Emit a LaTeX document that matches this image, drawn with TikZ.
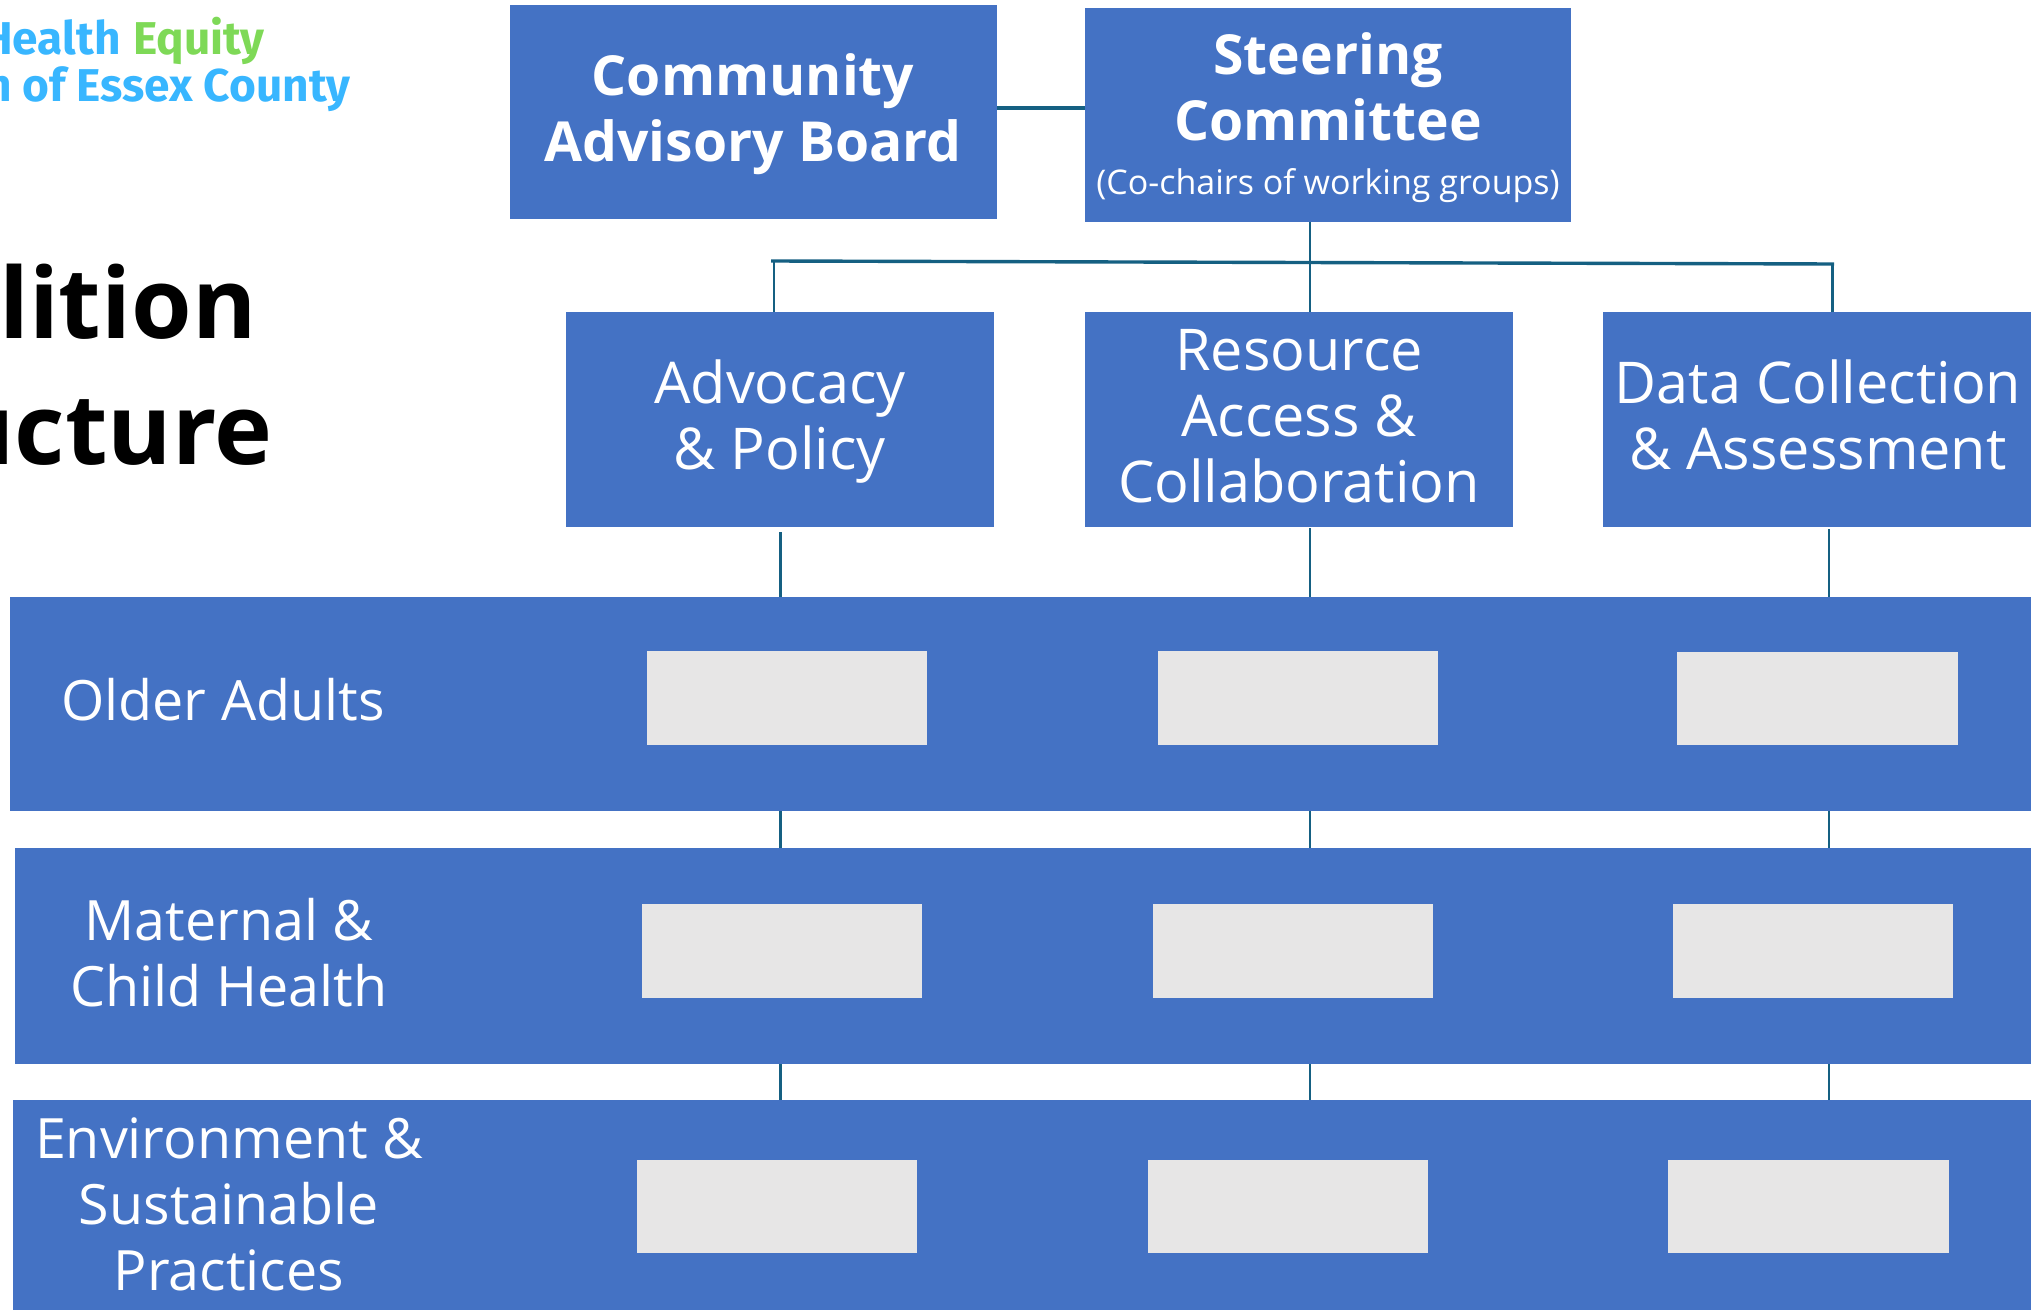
\documentclass[tikz,border=0pt]{standalone}
\usepackage{fontspec}
\setmainfont{Open Sans}
\newfontfamily\logofont{Fira Sans}
\definecolor{bandblue}{HTML}{4472C4}
\definecolor{cellgray}{HTML}{E7E6E6}
\definecolor{linkteal}{HTML}{156082}
\definecolor{logoblue}{HTML}{38B6FF}
\definecolor{logogreen}{HTML}{7ED957}
\tikzset{
  bluebox/.style={fill=bandblue,draw=none,inner sep=0pt},
  cellbox/.style={fill=cellgray,draw=none,inner sep=0pt},
  boxtext/.style={text=white,align=center,inner sep=0pt,font=\fontsize{27.8}{33}\selectfont},
  grouptext/.style={text=white,align=center,inner sep=0pt,font=\fontsize{28.8}{33}\selectfont},
  boldtext/.style={text=white,align=center,inner sep=0pt,font=\fontsize{27.6}{33}\selectfont\bfseries},
  smalltext/.style={text=white,align=center,inner sep=0pt,font=\fontsize{17}{20}\selectfont},
  conn/.style={draw=linkteal,line width=1.7pt},
  connthin/.style={draw=linkteal,line width=1.1pt},
  titletext/.style={anchor=base east,inner sep=0pt,font=\fontsize{49}{56}\selectfont\bfseries},
  logotext/.style={anchor=base east,inner sep=0pt,font=\logofont\fontsize{23}{28}\selectfont\bfseries},
}
\newcommand{\rectnode}[6]{\node[#1,minimum width={(#5-#3)*0.5pt},minimum height={(#6-#4)*0.5pt}] (#2) at ({(#3+#5)/2},{(#4+#6)/2}) {};}
\begin{document}
\begin{tikzpicture}[x=0.5pt,y=-0.5pt]
\useasboundingbox (0,0) rectangle (2043,1310);
\begin{scope}
\clip (0,0) rectangle (2043,1310);
% logo and title
\node[logotext,text=logogreen] (logoa) at (265,55) {Equity};
\node[logotext,text=logoblue] (logob) at (121,55) {Health};
\node[logotext,text=logoblue] (logoc) at (351,102) {Coalition of Essex County};
\node[titletext] (titlea) at (257,339) {Coalition};
\node[titletext] (titleb) at (273,464) {Structure};
% top boxes
\rectnode{bluebox}{cab}{510}{5}{997}{219}
\rectnode{bluebox}{sc}{1085}{8}{1571}{222}
\rectnode{bluebox}{adv}{566}{312}{994}{527}
\rectnode{bluebox}{res}{1085}{312}{1513}{527}
\rectnode{bluebox}{dat}{1603}{312}{2031}{527}
% bands
\rectnode{bluebox}{banda}{9.5}{597}{2031}{811}
\rectnode{bluebox}{bandb}{14.5}{848}{2031}{1064}
\rectnode{bluebox}{bandc}{13}{1100}{2031}{1310}
% cells
\rectnode{cellbox}{ca}{647}{651}{927}{745}
\rectnode{cellbox}{cb}{1158}{651}{1438}{745}
\rectnode{cellbox}{cc}{1677}{652}{1958}{745}
\rectnode{cellbox}{da}{642}{904}{922}{998}
\rectnode{cellbox}{db}{1153}{904}{1433}{998}
\rectnode{cellbox}{dc}{1673}{904}{1953}{998}
\rectnode{cellbox}{ea}{637}{1160}{917}{1253}
\rectnode{cellbox}{eb}{1148}{1160}{1428}{1253}
\rectnode{cellbox}{ec}{1668}{1160}{1949}{1253}
% texts
\node[boldtext] (tcab) at (753,114) {Community\\Advisory Board};
\node[boldtext] (tsc) at (1328,87) {Steering\\Committee};
\node[smalltext] (tsc2) at (1328,186) {(Co-chairs of working groups)};
\node[grouptext] (tadv) at (780,422) {Advocacy\\\& Policy};
\node[grouptext] (tres) at (1299,416) {Resource\\Access \&\\Collaboration};
\node[grouptext] (tdat) at (1818,415) {Data Collection\\\& Assessment};
\node[boxtext] (ta) at (223,700) {Older Adults};
\node[boxtext] (tb) at (229,953) {Maternal \&\\Child Health};
\node[boxtext] (tc) at (229,1204) {Environment \&\\Sustainable\\Practices};
% connector lines
\coordinate (rowa) at (0,108);
\coordinate (busl) at (771,261);
\coordinate (busr) at (1834,264);
\coordinate (cola) at (774,0);
\coordinate (colb) at (1310,0);
\coordinate (colc) at (1832.5,0);
\coordinate (lowa) at (780.5,0);
\coordinate (lowc) at (1829,0);
\draw[conn] (cab.east |- rowa) -- (sc.west |- rowa);
\draw[connthin] (colb |- sc.south) -- (colb |- res.north);
\draw[conn] (busl) -- (busr);
\draw[connthin] (cola |- busl) -- (cola |- adv.north);
\draw[connthin] (colc |- busr) -- (colc |- dat.north);
\draw[connthin] ([yshift=-2.5pt]lowa |- adv.south) -- (lowa |- banda.north);
\draw[connthin] ([yshift=-0.5pt]colb |- res.south) -- (colb |- banda.north);
\draw[connthin] ([yshift=-1pt]lowc |- dat.south) -- (lowc |- banda.north);
\draw[connthin] (lowa |- banda.south) -- (lowa |- bandb.north);
\draw[connthin] (colb |- banda.south) -- (colb |- bandb.north);
\draw[connthin] (lowc |- banda.south) -- (lowc |- bandb.north);
\draw[connthin] (lowa |- bandb.south) -- (lowa |- bandc.north);
\draw[connthin] (colb |- bandb.south) -- (colb |- bandc.north);
\draw[connthin] (lowc |- bandb.south) -- (lowc |- bandc.north);
\end{scope}
\end{tikzpicture}
\end{document}
